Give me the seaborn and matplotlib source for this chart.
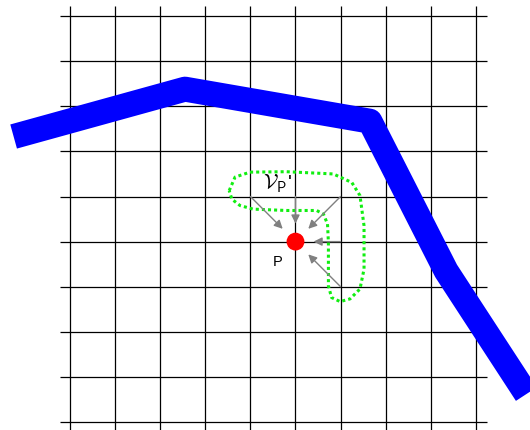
import numpy as np
import pandas as pd
import seaborn as sns
import matplotlib.pyplot as plt

# --- data (grid units, P sits at (5, 4)) ---
grid_ticks = list(range(10))

path_x = [-1.25, 2.55, 6.65, 8.34, 10.12]   # thick blue polyline
path_y = [6.33, 7.38, 6.67, 3.35, 0.62]

point_p = (5, 4)

# dotted region V_P' (hand traced outline)
region_x = [3.53, 3.66, 3.99, 4.80, 5.84, 6.25, 6.43, 6.52, 6.52, 6.43, 6.21, 5.99,
            5.80, 5.73, 5.73, 5.71, 5.62, 5.47, 4.80, 4.06, 3.77, 3.59, 3.53]
region_y = [5.13, 5.43, 5.54, 5.55, 5.50, 5.31, 5.02, 4.35, 3.39, 2.95, 2.73, 2.67,
            2.76, 3.02, 3.98, 4.39, 4.61, 4.69, 4.69, 4.72, 4.80, 4.94, 5.13]

# neighbours pointing at P
arrow_from = [(4, 5), (5, 5), (6, 5), (6, 4), (6, 3)]

sns.set_style("white")
plt.rcParams['font.family'] = ['Liberation Sans', 'DejaVu Sans']
plt.rcParams['mathtext.fontset'] = 'cm'

fig = plt.figure(figsize=(5.3, 4.31), dpi=100)
ax = fig.add_axes([0, 0, 1, 1])

# grid
ax.hlines(grid_ticks, -0.22, 9.25, color="black", lw=0.9, zorder=1)
ax.vlines(grid_ticks, -0.3, 9.22, color="black", lw=0.9, zorder=1)

# thick blue path
sns.lineplot(x=path_x, y=path_y, sort=False, estimator=None, color="#0000ff",
             linewidth=18, solid_capstyle="butt", solid_joinstyle="round",
             ax=ax, legend=False, zorder=2)

# dotted region
ax.plot(region_x, region_y, color="#11ee11", lw=2.2, linestyle=(0, (1, 1)),
        zorder=3)

# arrows
for src in arrow_from:
    ax.annotate("", xy=point_p, xytext=src,
                arrowprops=dict(arrowstyle="-|>,head_length=0.5,head_width=0.25",
                                color="#808080", lw=1.0, mutation_scale=10,
                                shrinkA=0, shrinkB=13),
                zorder=4)

# the point
sns.scatterplot(x=[point_p[0]], y=[point_p[1]], color="#ff0000", s=165,
                edgecolor="none", ax=ax, zorder=5, legend=False)

ax.text(4.61, 3.57, "P", fontsize=10.5, color="black", ha="center", va="center")
ax.text(4.6, 5.3, r"$\mathcal{V}_{\mathsf{P}}$'", fontsize=15, color="black",
        ha="center", va="center")

ax.set_xlim(-1.552, 10.2)
ax.set_ylim(-0.177, 9.379)
ax.set_axis_off()

fig.savefig("out.png", dpi=100)
